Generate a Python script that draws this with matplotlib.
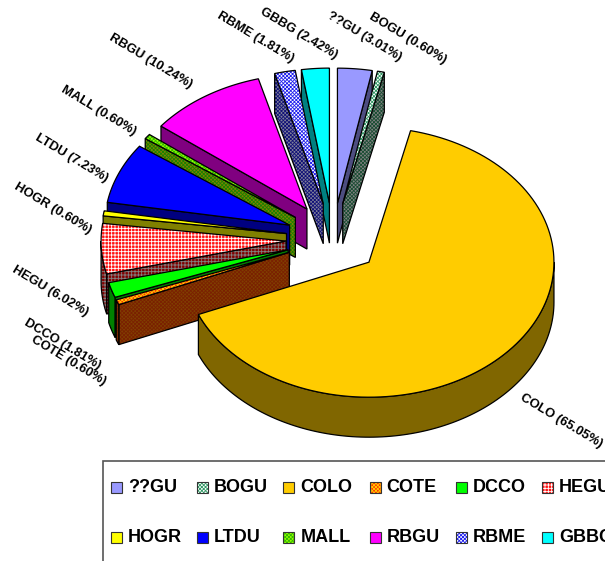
import numpy as np
import matplotlib
matplotlib.use('Agg')
import matplotlib.pyplot as plt
from matplotlib.patches import Polygon, Rectangle

names = ['??GU', 'BOGU', 'COLO', 'COTE', 'DCCO', 'HEGU', 'HOGR', 'LTDU', 'MALL', 'RBGU', 'RBME', 'GBBG']
percents = [3.01, 0.60, 65.05, 0.60, 1.81, 6.02, 0.60, 7.23, 0.60, 10.24, 1.81, 2.42]

top_colors = ['#9999ff', '#ffffff', '#ffcc00', '#ff3300', '#00ff00', '#ff1010',
              '#ffff00', '#0000ff', '#99ff00', '#ff00ff', '#ffffff', '#00ffff']
wall_colors = ['#4d4d80', '#808080', '#806600', '#804000', '#008000', '#800000',
               '#808000', '#000080', '#808000', '#800080', '#808099', '#008080']
top_hatch = {'BOGU': ('#339966', 'xxxxxxxxx'), 'COTE': ('#ffcc00', 'xxxxxxxxx'), 'HEGU': ('#ffffff', '+++++'),
             'MALL': ('#33bb00', 'xxxxxxxxx'), 'RBME': ('#2222ee', 'xxxxxxxxx')}
wall_hatch = {'BOGU': ('#1a4d33', 'xxxxxxxxx'), 'COTE': ('#7a2000', 'xxxxxxxxx'), 'HEGU': ('#808080', '+++++'),
              'MALL': ('#1a8000', 'xxxxxxxxx'), 'RBME': ('#111177', 'xxxxxxxxx')}

# pie geometry in pixels
cx, cy = 333, 239
rx, ry = 185, 135
exp_x, exp_y = 47, 36
depth = 40

# label centres in pixels
label_pos = {'??GU': (364, 37), 'BOGU': (408, 38), 'COLO': (561, 421), 'COTE': (69, 361),
             'DCCO': (62, 344), 'HEGU': (50, 291), 'HOGR': (53, 208), 'LTDU': (72, 158),
             'MALL': (99, 111), 'RBGU': (151, 61), 'RBME': (255, 37), 'GBBG': (299, 34)}


def fill(ax, pts, color, hatch, z):
    if hatch:
        ax.add_patch(Polygon(pts, closed=True, facecolor=color, edgecolor=hatch[0], hatch=hatch[1], lw=0, zorder=z))
        ax.add_patch(Polygon(pts, closed=True, fill=False, edgecolor='black', lw=0.9, zorder=z))
    else:
        ax.add_patch(Polygon(pts, closed=True, facecolor=color, edgecolor='black', lw=0.9, zorder=z))


def rim(x0, y0, t):
    return np.column_stack([x0 + rx * np.sin(t), y0 - ry * np.cos(t)])


plt.rcParams['font.family'] = ['Liberation Sans', 'DejaVu Sans']
plt.rcParams['hatch.linewidth'] = 0.6

fig = plt.figure(figsize=(6.05, 5.61), dpi=100)
ax = fig.add_axes([0, 0, 1, 1])
ax.set_xlim(0, 605)
ax.set_ylim(561, 0)
ax.axis('off')

total = sum(percents)
ends = np.cumsum(percents) / total * 2 * np.pi
starts = np.concatenate([[0], ends[:-1]])
mids = (starts + ends) / 2

# back slices first so the front ones paint over them
order = np.argsort(-np.cos(mids))
for z, i in enumerate(order):
    name = names[i]
    t0, t1 = starts[i], ends[i]
    x0 = cx + exp_x * np.sin(mids[i])
    y0 = cy - exp_y * np.cos(mids[i])
    t = np.linspace(t0, t1, 120)
    edge = rim(x0, y0, t)
    apex = np.array([[x0, y0]])
    down = np.array([0, depth])
    w_h = wall_hatch.get(name)

    # cut faces, only the ones turned to the viewer
    if np.sin(t0) < 0:
        fill(ax, np.vstack([apex, edge[:1], edge[:1] + down, apex + down]), wall_colors[i], w_h, z)
    if np.sin(t1) > 0:
        fill(ax, np.vstack([apex, edge[-1:], edge[-1:] + down, apex + down]), wall_colors[i], w_h, z)
    # outer wall
    lo, hi = max(t0, np.pi / 2), min(t1, 3 * np.pi / 2)
    if lo < hi:
        arc = rim(x0, y0, np.linspace(lo, hi, 120))
        fill(ax, np.vstack([arc, arc[::-1] + down]), wall_colors[i], w_h, z)
    fill(ax, np.vstack([apex, edge]), top_colors[i], top_hatch.get(name), z)

for name, pct in zip(names, percents):
    x, y = label_pos[name]
    ax.text(x, y, f'{name} ({pct:.2f}%)', rotation=-31, rotation_mode='anchor', ha='center', va='center',
            fontsize=9.4, fontweight='bold', color='black', zorder=50)

# legend box runs off the right and bottom of the picture
ax.add_patch(Rectangle((103, 461), 520, 120, facecolor='white', edgecolor='#555555', lw=1.2, zorder=60))
for i, name in enumerate(names):
    col, row = i % 6, i // 6
    sx = 111 + col * 86.2
    sy = 487 + row * 50.5
    ax.add_patch(Rectangle((sx, sy - 5.5), 11, 11, facecolor=top_colors[i], edgecolor='none', lw=0, zorder=61))
    if name in top_hatch:
        ax.add_patch(Rectangle((sx, sy - 5.5), 11, 11, facecolor=top_colors[i], edgecolor=top_hatch[name][0],
                               hatch=top_hatch[name][1], lw=0, zorder=61))
    ax.add_patch(Rectangle((sx, sy - 5.5), 11, 11, fill=False, edgecolor='#333333', lw=0.8, zorder=62))
    ax.text(sx + 17, sy + 0.5, name, ha='left', va='center', fontsize=13, fontweight='bold', zorder=62)

fig.savefig('out.png', dpi=100)
